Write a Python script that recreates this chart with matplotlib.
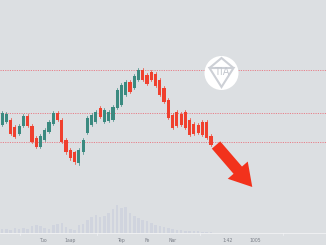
import matplotlib
matplotlib.use("Agg")
import matplotlib.pyplot as plt
from matplotlib.patches import Rectangle, Circle, Polygon

# price values (arbitrary units)
opens = [120, 123, 125, 118, 111, 119, 129, 119, 107, 98, 105, 113, 121, 132, 125, 105, 95, 93,
         82, 93, 112, 120, 123, 137, 123, 124, 125, 137, 140, 150, 163, 157, 165, 175, 170, 173,
         171, 165, 157, 145, 130, 133, 131, 133, 125, 121, 120, 123, 123, 109]
closes = [132, 131, 111, 108, 119, 129, 119, 103, 98, 109, 115, 123, 132, 125, 103, 93, 87, 83,
          95, 105, 127, 130, 133, 128, 135, 133, 138, 155, 160, 163, 153, 169, 175, 165, 161, 165,
          159, 150, 143, 127, 117, 119, 120, 117, 110, 111, 112, 110, 107, 100]
levels = [175, 132, 103]
volumes = [4, 4, 3, 5, 4, 5, 4, 7, 8, 7, 5, 4, 8, 9, 10, 6, 4, 3, 8, 9, 13, 16, 18, 16, 17, 20,
           24, 28, 25, 26, 20, 17, 15, 13, 12, 10, 8, 7, 6, 5, 4, 3, 3, 2, 2, 2, 2, 1, 1, 1]
tick_labels = ["Tuo", "1aap", "Tep", "Fe", "Nar", "1:42", "1005"]
tick_pos = [9.6, 16.0, 27.8, 34.0, 40.0, 53.0, 59.5]

BG = "#dcdfe2"
GREEN = "#3b8a80"
RED = "#f0402e"

fig = plt.figure(figsize=(3.26, 2.45), dpi=100, facecolor=BG)
ax = fig.add_axes([0, 0, 1, 1])
ax.set_facecolor(BG)
ax.set_xlim(-0.5, 76.0)
ax.set_ylim(0, 245)
ax.axis("off")

# dotted level lines
for lv in levels:
    ax.axhline(lv, color="#e8808a", lw=0.7, ls=(0, (1.2, 1.2)), zorder=1)

# volume bars
vbase = 12
for i, v in enumerate(volumes):
    ax.add_patch(Rectangle((i - 0.3, vbase), 0.6, v, facecolor="#d0d4de",
                           edgecolor="none", zorder=1))
ax.axhline(vbase, color="#f2f3f5", lw=0.6, zorder=2)
for t in [4.2, 22.2, 46.5, 66.0]:
    ax.plot([t, t], [vbase - 1.5, vbase], color="#f2f3f5", lw=0.5, zorder=2)

# candles
for i, (o, c) in enumerate(zip(opens, closes)):
    col = GREEN if c >= o else RED
    lo, hi = min(o, c), max(o, c)
    ax.plot([i, i], [lo - 1.5, hi + 1.5], color=col, lw=0.5, zorder=3)
    ax.add_patch(Rectangle((i - 0.37, lo), 0.74, hi - lo, facecolor=col,
                           edgecolor="none", zorder=4))

# arrow
ax.annotate("", xy=(58.7, 58), xytext=(50.2, 100),
            arrowprops=dict(arrowstyle="simple,head_length=1.6,head_width=1.9,tail_width=0.8",
                            color="#f2321c", lw=0, shrinkA=0, shrinkB=0), zorder=5)

# logo
lx, ly = 221.5, 73
fig.patches.append(Circle((lx, 245 - ly), 17, transform=None, facecolor="white",
                          edgecolor="none", zorder=6))
fig.patches.append(Polygon([(lx - 12, 245 - ly + 5), (lx + 12, 245 - ly + 5), (lx, 245 - ly - 14),
                            ], closed=True, transform=None, facecolor="none",
                           edgecolor="#cdd0d6", lw=1.5, zorder=7))
fig.patches.append(Polygon([(lx - 12, 245 - ly + 5), (lx, 245 - ly + 15), (lx + 12, 245 - ly + 5)],
                           closed=False, transform=None, facecolor="none",
                           edgecolor="#cdd0d6", lw=1.5, zorder=7))
fig.text(lx / 326, (245 - ly + 1) / 245, "TIA", ha="center", va="center",
         fontsize=7, color="#c4c8cf", zorder=8)

# tick labels
for p, lab in zip(tick_pos, tick_labels):
    ax.text(p, 5, lab, ha="center", va="center", fontsize=3.3, color="#7a7f88")

fig.savefig("out.png", dpi=100, facecolor=BG)
